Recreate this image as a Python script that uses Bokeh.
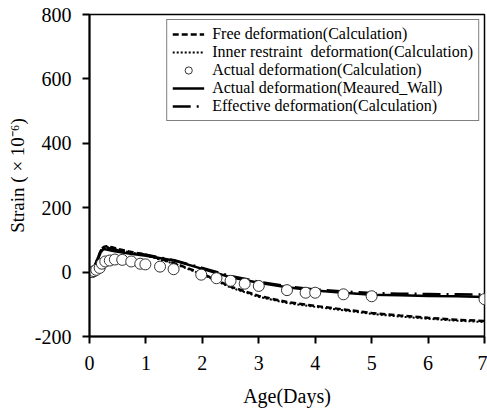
from bokeh.plotting import figure
from bokeh.models import Legend, LegendItem, Range1d, FixedTicker, PrintfTickFormatter
from bokeh.embed import file_html
from bokeh.resources import INLINE

# ---- data ----
days_line = [0, 0.05, 0.1, 0.15, 0.2, 0.25, 0.3, 0.4, 0.5, 0.7, 1.0, 1.5, 2.0,
             2.5, 3.0, 3.5, 4.0, 4.5, 5.0, 5.5, 6.0, 6.5, 7.0]
free_calc = [0, 8, 22, 45, 68, 78, 80, 77, 72, 64, 54, 28, -5,
             -45, -74, -93, -105, -116, -127, -135, -142, -148, -152]
inner_calc = [0, 8, 22, 45, 67, 77, 78, 75, 70, 62, 52, 26, -7,
              -48, -77, -96, -108, -119, -130, -138, -145, -151, -155]
measured_wall = [0, 8, 20, 40, 62, 72, 70, 66, 63, 58, 51, 36, 10,
                 -16, -33, -47, -57, -64, -70, -72, -74, -75, -77]
effective_calc = [0, 8, 22, 45, 66, 75, 76, 72, 68, 62, 54, 37, 13,
                  -12, -30, -44, -54, -60, -65, -67, -68, -69, -70]

days_calc = [0, 0.05, 0.08, 0.12, 0.18, 0.22, 0.28, 0.36, 0.45, 0.58, 0.74, 0.9,
             0.99, 1.25, 1.49, 1.98, 2.25, 2.5, 2.75, 3.0, 3.5, 3.83, 4.0, 4.5,
             5.0, 7.0]
actual_calc = [0, 0, 3, 7, 13, 26, 33, 36, 39, 38, 33, 26,
               24, 17, 9, -8, -19, -27, -36, -43, -56, -64, -64, -69,
               -75, -84]

x_ticks = [0, 1, 2, 3, 4, 5, 6, 7]
y_ticks = [-200, 0, 200, 400, 600, 800]

FONT = "Liberation Serif"

p = figure(width=487, height=414, output_backend="svg", toolbar_location=None,
           x_range=Range1d(0, 7), y_range=Range1d(-200, 800),
           min_border_left=89, min_border_right=3, min_border_top=14,
           min_border_bottom=78)
p.background_fill_color = "white"
p.border_fill_color = "white"
p.outline_line_color = "black"
p.outline_line_width = 1.5
p.xgrid.visible = False
p.ygrid.visible = False

for ax in (p.xaxis[0], p.yaxis[0]):
    ax.axis_line_color = "black"
    ax.axis_line_width = 2
    ax.major_tick_line_color = "black"
    ax.major_tick_line_width = 2
    ax.major_tick_out = 7
    ax.major_tick_in = 0
    ax.minor_tick_line_color = None
    ax.major_label_text_font = FONT
    ax.major_label_text_font_size = "20px"
    ax.major_label_text_color = "black"
    ax.axis_label_text_font = FONT
    ax.axis_label_text_font_style = "normal"
    ax.axis_label_text_color = "black"

p.xaxis.ticker = FixedTicker(ticks=x_ticks)
p.yaxis.ticker = FixedTicker(ticks=y_ticks)
p.yaxis.formatter = PrintfTickFormatter(format="%d")
p.xaxis.formatter = PrintfTickFormatter(format="%d")
p.xaxis.major_label_standoff = 12
p.yaxis.major_label_standoff = 11
p.xaxis.axis_label = "Age(Days)"
p.xaxis.axis_label_text_font_size = "20px"
p.xaxis.axis_label_standoff = 12
p.yaxis.axis_label = "Strain ( × 10⁻⁶)"
p.yaxis.axis_label_text_font_size = "19px"
p.yaxis.axis_label_standoff = 4

r_free = p.line(days_line, free_calc, line_color="black", line_width=2.5,
                line_dash="6 3")
r_inner = p.line(days_line, inner_calc, line_color="black", line_width=2,
                 line_dash="2 2")
r_meas = p.line(days_line, measured_wall, line_color="black", line_width=2.5)
r_eff = p.line(days_line, effective_calc, line_color="black", line_width=2.5,
               line_dash="18 6 2 6")
r_act = p.scatter(days_calc, actual_calc, marker="circle", size=11,
                  fill_color="white", line_color="#333333", line_width=1)

legend = Legend(items=[
    LegendItem(label="Free deformation(Calculation)", renderers=[r_free]),
    LegendItem(label="Inner restraint  deformation(Calculation)", renderers=[r_inner]),
    LegendItem(label="Actual deformation(Calculation)", renderers=[r_act]),
    LegendItem(label="Actual deformation(Meaured_Wall)", renderers=[r_meas]),
    LegendItem(label="Effective deformation(Calculation)", renderers=[r_eff]),
], location="top_right")
legend.margin = 5
legend.padding = 5
legend.spacing = 0
legend.glyph_width = 32
legend.glyph_height = 18
legend.label_height = 18
legend.label_standoff = 8
legend.label_text_font = FONT
legend.label_text_font_size = "16px"
legend.label_text_color = "black"
legend.border_line_color = "black"
legend.border_line_width = 1.5
legend.background_fill_alpha = 1.0
p.add_layout(legend)

open("out.html", "w").write(file_html(p, INLINE))
